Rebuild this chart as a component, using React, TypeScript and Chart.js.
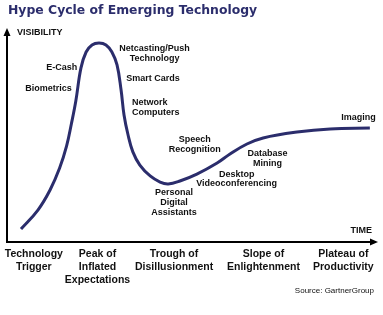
import React, { useEffect, useRef } from 'react';
import { Chart, registerables } from 'chart.js';

Chart.register(...registerables);

const TITLE = 'Hype Cycle of Emerging Technology';
const Y_AXIS_LABEL = 'VISIBILITY';
const X_AXIS_LABEL = 'TIME';
const SOURCE = 'Source: GartnerGroup';

// Hype curve (time 0-100, visibility 0-100)
const curveX = [3.8, 8.4, 11.7, 14.3, 16.2, 17.5, 18.7, 20.1, 21.5, 23.1, 25.0, 26.9, 28.5, 29.9, 31.0, 31.8, 32.9, 34.2, 36.1, 38.9, 41.6, 43.8, 47.0, 51.6, 57.1, 60.6, 65.2, 69.6, 78.8, 87.8, 98.6];
const curveY = [6.2, 15.3, 24.9, 35.4, 46.0, 56.6, 67.5, 83.3, 90.9, 94.3, 95.2, 94.3, 90.9, 84.7, 72.7, 60.8, 51.2, 43.1, 36.8, 31.6, 28.7, 27.8, 29.2, 32.5, 37.8, 42.1, 46.9, 49.8, 52.6, 54.1, 54.5];

// Phase labels along the time axis
const phaseLabels = [
  ['Technology', 'Trigger'],
  ['Peak of', 'Inflated', 'Expectations'],
  ['Trough of', 'Disillusionment'],
  ['Slope of', 'Enlightenment'],
  ['Plateau of', 'Productivity'],
];
const phaseX = [7.3, 24.6, 45.4, 69.7, 91.4];

// Technology annotations (text lines, anchor position in data units, alignment)
const noteLines = [
  ['E-Cash'],
  ['Biometrics'],
  ['Netcasting/Push', 'Technology'],
  ['Smart Cards'],
  ['Network', 'Computers'],
  ['Speech', 'Recognition'],
  ['Database', 'Mining'],
  ['Desktop', 'Videoconferencing'],
  ['Personal', 'Digital', 'Assistants'],
  ['Imaging'],
];
const noteX = [14.9, 11.3, 40.1, 39.7, 34.0, 51.0, 70.8, 62.4, 45.4, 95.5];
const noteY = [83.3, 73.2, 90.0, 78.0, 64.4, 46.7, 40.0, 30.1, 18.9, 59.8];
const noteAlign = ['center', 'center', 'center', 'center', 'left', 'center', 'center', 'center', 'center', 'center'];

const overlayPlugin = {
  id: 'hypeOverlay',
  beforeDatasetsDraw(chart: any) {
    const { ctx, chartArea } = chart;
    const { left, right, top, bottom } = chartArea;
    ctx.save();
    ctx.strokeStyle = '#000';
    ctx.fillStyle = '#000';
    ctx.lineWidth = 2;
    // y axis
    ctx.beginPath();
    ctx.moveTo(left, bottom);
    ctx.lineTo(left, top + 1);
    ctx.stroke();
    ctx.beginPath();
    ctx.moveTo(left, top - 5);
    ctx.lineTo(left - 3.5, top + 3);
    ctx.lineTo(left + 3.5, top + 3);
    ctx.closePath();
    ctx.fill();
    // x axis
    ctx.beginPath();
    ctx.moveTo(left - 1, bottom);
    ctx.lineTo(right - 3, bottom);
    ctx.stroke();
    ctx.beginPath();
    ctx.moveTo(right + 3, bottom);
    ctx.lineTo(right - 5, bottom - 3.5);
    ctx.lineTo(right - 5, bottom + 3.5);
    ctx.closePath();
    ctx.fill();
    ctx.restore();
  },
  afterDraw(chart: any) {
    const { ctx, chartArea, scales } = chart;
    const { left, right, top, bottom } = chartArea;
    const xs = scales.x;
    const ys = scales.y;
    ctx.save();
    ctx.textBaseline = 'middle';
    // title
    ctx.fillStyle = '#2b2d6c';
    ctx.font = 'bold 12.4px "DejaVu Sans"';
    ctx.textAlign = 'left';
    ctx.fillText(TITLE, 8, 11);
    // axis labels
    ctx.fillStyle = '#111';
    ctx.font = 'bold 9px "Liberation Sans"';
    ctx.fillText(Y_AXIS_LABEL, left + 10, top);
    ctx.textAlign = 'right';
    ctx.fillText(X_AXIS_LABEL, right - 3, bottom - 11);
    // annotations
    noteLines.forEach((lines, i) => {
      const px = xs.getPixelForValue(noteX[i]);
      const py = ys.getPixelForValue(noteY[i]);
      const lh = 9.8;
      const y0 = py - ((lines.length - 1) * lh) / 2;
      ctx.textAlign = noteAlign[i] as CanvasTextAlign;
      lines.forEach((t, j) => ctx.fillText(t, px, y0 + j * lh));
    });
    // phases
    ctx.font = 'bold 10.5px "Liberation Sans"';
    ctx.textAlign = 'center';
    phaseLabels.forEach((lines, i) => {
      const px = xs.getPixelForValue(phaseX[i]);
      lines.forEach((t, j) => ctx.fillText(t, px, bottom + 12 + j * 13));
    });
    // source
    ctx.font = '8px "Liberation Sans"';
    ctx.textAlign = 'right';
    ctx.fillText(SOURCE, right - 1, bottom + 49);
    ctx.restore();
  },
};

export default function App() {
  const ref = useRef<HTMLCanvasElement>(null);
  useEffect(() => {
    if (!ref.current) return;
    const chart = new Chart(ref.current, {
      type: 'line',
      data: {
        datasets: [
          {
            label: 'Hype',
            data: curveX.map((x, i) => ({ x, y: curveY[i] })),
            borderColor: '#2b2d6c',
            borderWidth: 3,
            pointRadius: 0,
            tension: 0.4,
            fill: false,
          },
        ],
      },
      options: {
        animation: false,
        responsive: false,
        layout: { padding: { left: 7, right: 8, top: 33, bottom: 73 } },
        scales: {
          x: { type: 'linear', min: 0, max: 100, display: false },
          y: { type: 'linear', min: 0, max: 100, display: false },
        },
        plugins: {
          legend: { display: false },
          title: { display: false },
          tooltip: { enabled: false },
        },
      },
      plugins: [overlayPlugin],
    });
    return () => chart.destroy();
  }, []);
  return (
    <div style={{ position: 'absolute', left: 0, top: 0, width: 383, height: 315, background: '#fff' }}>
      <canvas ref={ref} width={383} height={315} />
    </div>
  );
}
